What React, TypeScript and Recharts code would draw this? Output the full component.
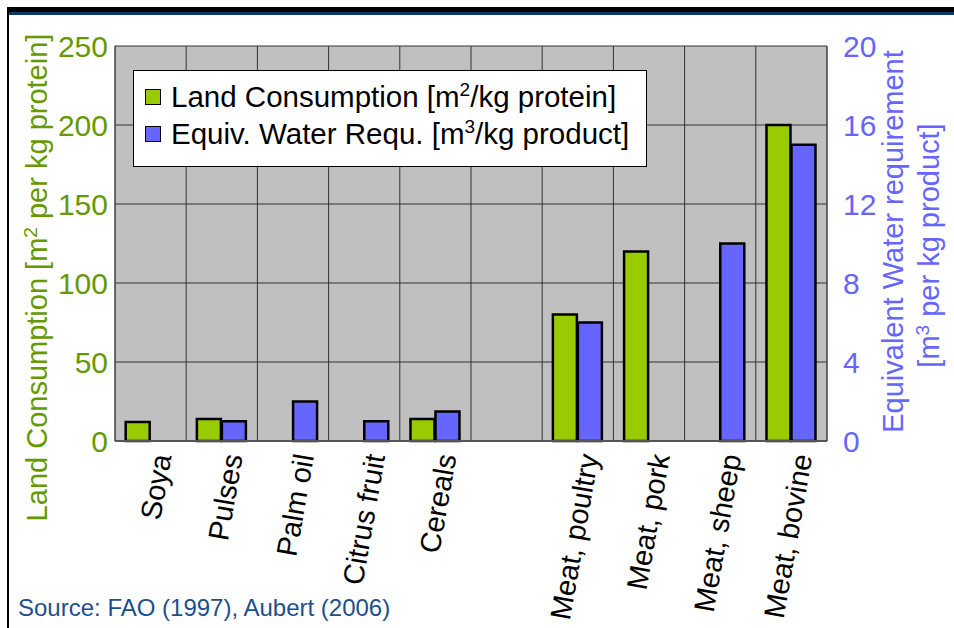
import { BarChart, Bar, XAxis, YAxis, CartesianGrid } from "recharts";

const categories = [
  "Soya", "Pulses", "Palm oil", "Citrus fruit", "Cereals", "",
  "Meat, poultry", "Meat, pork", "Meat, sheep", "Meat, bovine",
];
const landValues = [12, 14, null, null, 14, null, 80, 120, null, 200];
const waterValues = [null, 1, 2, 1, 1.5, null, 6, null, 10, 15];
const leftTicks = [0, 50, 100, 150, 200, 250];
const rightTicks = [0, 4, 8, 12, 16, 20];

const GREEN = "#99cc00";
const BLUE = "#6666ff";
const GREEN_TEXT = "#669900";
const BLUE_TEXT = "#6666ff";
const FONT = "'Liberation Sans', Arial, sans-serif";

const data = categories.map((name, i) => ({
  name,
  land: landValues[i],
  water: waterValues[i],
}));

function CatTick({ x, y, payload }: any) {
  const ax = x + 21;
  const ay = y + 15;
  return (
    <text x={ax} y={ay} transform={`rotate(-80 ${ax} ${ay})`} textAnchor="end"
      fontSize={29} fill="#000" fontFamily={FONT}>
      {payload.value}
    </text>
  );
}

function LeftTitle({ viewBox }: any) {
  const x = viewBox.x + 12;
  const y = viewBox.y + viewBox.height / 2 + 34;
  return (
    <text x={x} y={y} transform={`rotate(-90 ${x} ${y})`} textAnchor="middle"
      fontSize={29} fill={GREEN_TEXT} fontFamily={FONT}>
      Land Consumption [m<tspan dy={-10} fontSize={19}>2</tspan>
      <tspan dy={10}> per kg protein]</tspan>
    </text>
  );
}

function RightTitle({ viewBox }: any) {
  const x1 = viewBox.x + 76;
  const x2 = viewBox.x + 112;
  const y = viewBox.y + viewBox.height / 2 - 2;
  return (
    <g fontSize={29} fill={BLUE_TEXT} fontFamily={FONT}>
      <text x={x1} y={y} transform={`rotate(-90 ${x1} ${y})`} textAnchor="middle">
        Equivalent Water requirement
      </text>
      <text x={x2} y={y + 4} transform={`rotate(-90 ${x2} ${y + 4})`} textAnchor="middle">
        [m<tspan dy={-10} fontSize={19}>3</tspan>
        <tspan dy={10}> per kg product]</tspan>
      </text>
    </g>
  );
}

function LegendBox() {
  const row = { display: "flex", alignItems: "center", height: 37, whiteSpace: "nowrap" as const };
  const sq = (c: string) => ({
    width: 14, height: 14, background: c, border: "1.5px solid #000", marginRight: 10, flexShrink: 0,
  });
  return (
    <div style={{
      position: "absolute", left: 133, top: 70, width: 501, height: 88,
      background: "#fff", border: "1.5px solid #000", boxSizing: "content-box",
      fontFamily: FONT, fontSize: 29.5, color: "#000", padding: "7px 0 0 11px",
      lineHeight: "37px",
    }}>
      <div style={row}>
        <span style={sq(GREEN)} />
        <span>Land Consumption [m<sup style={{ fontSize: 19, lineHeight: 0 }}>2</sup>/kg protein]</span>
      </div>
      <div style={row}>
        <span style={sq(BLUE)} />
        <span>Equiv. Water Requ. [m<sup style={{ fontSize: 19, lineHeight: 0 }}>3</sup>/kg product]</span>
      </div>
    </div>
  );
}

export default function App() {
  return (
    <div style={{ position: "absolute", left: 0, top: 0, width: 954, height: 628, background: "#fff", overflow: "hidden" }}>
      <div style={{ position: "absolute", left: 7, top: 7, width: 947, height: 5, background: "#000" }} />
      <div style={{ position: "absolute", left: 7, top: 12, width: 947, height: 3, background: "#0b3a66" }} />
      <div style={{ position: "absolute", left: 7, top: 7, width: 2, height: 621, background: "#000" }} />

      <BarChart width={954} height={628} data={data}
        margin={{ top: 46, right: 67, bottom: 7, left: 35 }}
        barCategoryGap="15%" barGap={1}
        style={{ fontFamily: FONT }}>
        <CartesianGrid yAxisId="left" fill="#c0c0c0" fillOpacity={1} stroke="#333"
          verticalCoordinatesGenerator={({ offset }: any) =>
            Array.from({ length: categories.length + 1 }, (_, i) =>
              offset.left + (offset.width * i) / categories.length)} />
        <XAxis dataKey="name" height={180} interval={0} tickLine={false} tickSize={0} tickMargin={0}
          axisLine={{ stroke: "#555", strokeWidth: 2 }} tick={<CatTick />} />
        <YAxis yAxisId="left" domain={[0, 250]} ticks={leftTicks} width={80}
          axisLine={{ stroke: "#444" }} tickLine={false} tickSize={0} tickMargin={7}
          tick={{ fill: GREEN_TEXT, fontSize: 30 }} label={<LeftTitle />} />
        <YAxis yAxisId="right" orientation="right" domain={[0, 20]} ticks={rightTicks} width={60}
          axisLine={{ stroke: "#444" }} tickLine={false} tickSize={0} tickMargin={16}
          tick={{ fill: BLUE_TEXT, fontSize: 30, textAnchor: "start" }} label={<RightTitle />} />
        <Bar yAxisId="left" dataKey="land" fill={GREEN} stroke="#000" strokeWidth={2.5}
          isAnimationActive={false} />
        <Bar yAxisId="right" dataKey="water" fill={BLUE} stroke="#000" strokeWidth={2.5}
          isAnimationActive={false} />
      </BarChart>

      <LegendBox />

      <div style={{
        position: "absolute", left: 18, top: 594, fontFamily: FONT, fontSize: 24,
        color: "#1c4f8c", whiteSpace: "nowrap",
      }}>
        Source: FAO (1997), Aubert (2006)
      </div>
    </div>
  );
}
